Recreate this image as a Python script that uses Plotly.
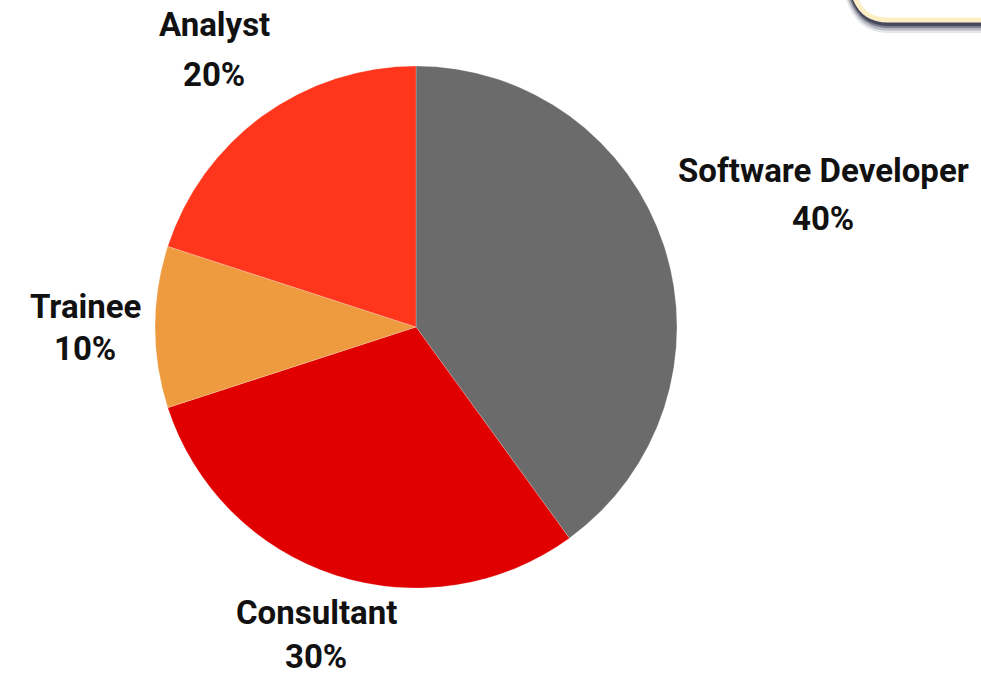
import math
import plotly.graph_objects as go

# ---- data ----
categories = ["Software Developer", "Consultant", "Trainee", "Analyst"]
shares = [40, 30, 10, 20]
colors = ["#6b6b6b", "#e00000", "#ee9b40", "#ff361c"]

# ---- layout constants ----
W, H = 981, 677
cx, cy, r = 416, 327, 261
label_dist = [428, 323, 331, 343]   # radial distance of each label block centre (px)
line_gap = [24, 22, 21, 25]         # half spacing between the two label lines (px)
FONT = "Roboto, 'DejaVu Sans', sans-serif"

fig = go.Figure(go.Pie(
    labels=categories,
    values=shares,
    sort=False,
    direction="clockwise",
    rotation=0,
    marker=dict(colors=colors, line=dict(color="rgba(255,255,255,0.35)", width=0.6)),
    textinfo="none",
    hoverinfo="label+percent",
    domain=dict(x=[(cx - r) / W, (cx + r) / W], y=[1 - (cy + r) / H, 1 - (cy - r) / H]),
))

fig.update_layout(
    template="none",
    width=W, height=H,
    margin=dict(l=0, r=0, t=0, b=0),
    paper_bgcolor="white",
    plot_bgcolor="white",
    showlegend=False,
    xaxis=dict(range=[0, W], visible=False, fixedrange=True, domain=[0, 1], showgrid=False, zeroline=False),
    yaxis=dict(range=[H, 0], visible=False, fixedrange=True, domain=[0, 1], showgrid=False, zeroline=False),
)

# labels placed along each slice's mid-angle
total = sum(shares)
cum = 0
for name, v, d, g in zip(categories, shares, label_dist, line_gap):
    mid = 2 * math.pi * (cum + v / 2) / total
    cum += v
    pct = round(100 * v / total)
    lx, ly = cx + d * math.sin(mid), cy - d * math.cos(mid)
    for txt, yy in [(name, ly - g), (f"{pct}%", ly + g)]:
        fig.add_annotation(
            x=lx, y=yy, xref="x", yref="y", showarrow=False,
            xanchor="center", yanchor="middle", align="center",
            text=f"<b>{txt}</b>",
            font=dict(family=FONT, size=33, color="#111111"),
        )

# decorative frame corner at top right (cream border with dark soft shadow)
for off, w, a in [(7, 12, 0.12), (6, 9, 0.22), (5, 6, 0.4), (4, 4, 0.6)]:
    fig.add_shape(type="path", xref="x", yref="y",
                  path=f"M {853 - off * 0.3} -5 Q {862 - off * 0.2} {20 + off} {888} {20 + off} L 995 {20 + off}",
                  line=dict(color=f"rgba(35,38,62,{a})", width=w), layer="above")
fig.add_shape(type="path", xref="x", yref="y", path="M 854 -5 Q 862 20 888 20 L 995 20",
              line=dict(color="#fdf0c6", width=5), layer="above")

fig.write_html("out.html", config={"displayModeBar": False},
               post_script="document.body.style.margin='0';document.body.style.overflow='hidden';")
